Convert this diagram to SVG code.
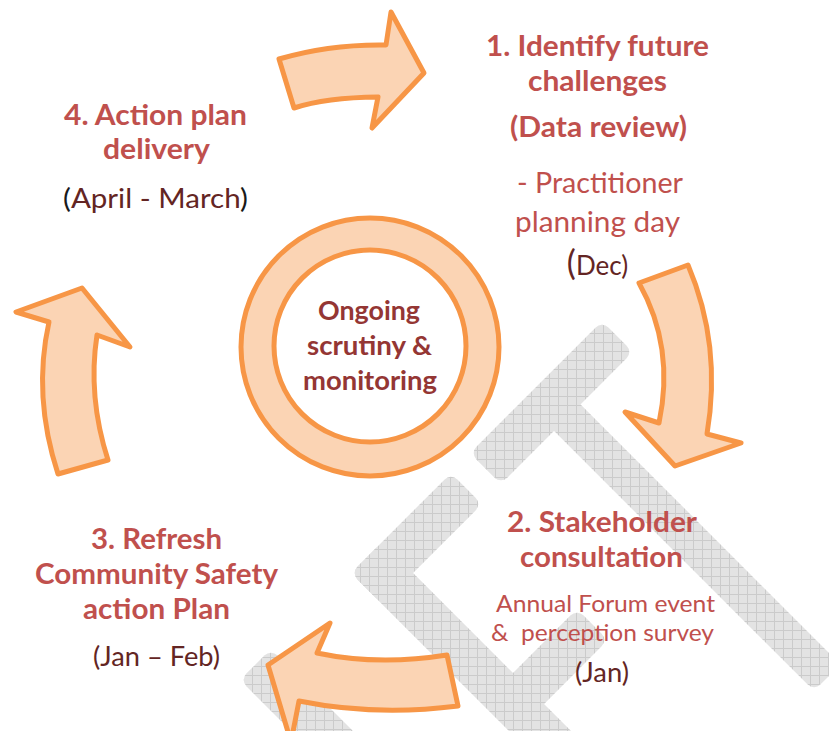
<svg xmlns="http://www.w3.org/2000/svg" width="829" height="731" viewBox="0 0 829 731">
<defs>
  <pattern id="grid" width="9" height="9" patternUnits="userSpaceOnUse" patternTransform="rotate(-45)">
    <rect width="9" height="9" fill="#e3e3e3"/>
    <path d="M0 0.5H9M0.5 0V9" stroke="#cbcbcb" stroke-width="1" fill="none"/>
  </pattern>
  <style>
    .arrow { fill: #FBD4B4; stroke: #F79646; stroke-width: 5; stroke-linejoin: round; }
    .ring { fill: #FBD4B4; stroke: #F79646; stroke-width: 5; }
    .hole { fill: #ffffff; stroke: #F79646; stroke-width: 5; }
    text { font-family: Lato, "Liberation Sans", sans-serif; text-anchor: middle; }
    .head { font-weight: bold; font-size: 29px; fill: #C0504D; }
    .sub { font-size: 28px; fill: #C0504D; }
    .small { font-size: 24px; fill: #C0504D; }
    .date { font-size: 26px; fill: #632523; }
    .centre { font-weight: bold; font-size: 27px; fill: #943634; }
  </style>
</defs>
<rect width="829" height="731" fill="#ffffff"/>

<g id="watermark" transform="rotate(45)" fill="url(#grid)">
  <rect x="652.7" y="-198.7" width="43.8" height="186.7" rx="9"/>
  <rect x="678.8" y="-124.5" width="385.4" height="37.5" rx="9"/>
  <rect x="653.4" y="15.6" width="43.8" height="141.4" rx="9"/>
  <rect x="653.4" y="113.1" width="294" height="43.9" rx="9"/>
  <rect x="838.6" y="22.6" width="43.9" height="111" rx="9"/>
  <rect x="650.5" y="267.3" width="150" height="43.8" rx="9"/>
</g>

<g id="connectors">
  <path class="arrow" d="M279,59 Q330,44 386,45 L391,12 L424,73 L372,128 L378,97 Q326,97.5 294,108 Z"/>
  <path class="arrow" d="M639,283 L688,265 Q722,345 707,434 L741,443 L675,466 L625,412 L659,423 Q675,347 639,283 Z"/>
  <path class="arrow" d="M447,655 Q378,666 317,653 L330,623 L268,665 L291,742 L299,701 Q375.5,716.5 458,706 Z"/>
  <path class="arrow" d="M58,474 L108,460 Q87.5,396.5 97,335 L130,347 L82,288 L16,312 L49,322 Q32.5,396 58,474 Z"/>
</g>

<g id="node-centre">
  <circle class="ring" cx="370" cy="347" r="129"/>
  <circle class="hole" cx="370" cy="346" r="96"/>
  <text class="centre" x="369" y="320" textLength="102" lengthAdjust="spacingAndGlyphs">Ongoing</text>
  <text class="centre" x="369.5" y="355" textLength="125" lengthAdjust="spacingAndGlyphs">scrutiny &amp;</text>
  <text class="centre" x="370" y="390" textLength="134" lengthAdjust="spacingAndGlyphs">monitoring</text>
</g>

<g id="node-identify">
  <text class="head" x="597.5" y="56" textLength="223" lengthAdjust="spacingAndGlyphs">1. Identify future</text>
  <text class="head" x="597.5" y="91" textLength="139" lengthAdjust="spacingAndGlyphs">challenges</text>
  <text class="head" x="598.5" y="137" textLength="177" lengthAdjust="spacingAndGlyphs">(Data review)</text>
  <text class="sub" x="600" y="193" textLength="166" lengthAdjust="spacingAndGlyphs">- Practitioner</text>
  <text class="sub" x="597.5" y="232" textLength="165" lengthAdjust="spacingAndGlyphs">planning day</text>
  <text class="date" x="597.5" y="275"><tspan font-size="34">(</tspan>Dec)</text>
</g>

<g id="node-stakeholder">
  <text class="head" x="602" y="532" textLength="190" lengthAdjust="spacingAndGlyphs">2. Stakeholder</text>
  <text class="head" x="601.5" y="567" textLength="163" lengthAdjust="spacingAndGlyphs">consultation</text>
  <text class="small" x="605.5" y="612" textLength="219" lengthAdjust="spacingAndGlyphs">Annual Forum event</text>
  <text class="small" x="602.5" y="641" xml:space="preserve" textLength="223" lengthAdjust="spacingAndGlyphs">&amp;  perception survey</text>
  <text class="date" x="602" y="682" textLength="54" lengthAdjust="spacingAndGlyphs">(Jan)</text>
</g>

<g id="node-refresh">
  <text class="head" x="156.5" y="549" textLength="131" lengthAdjust="spacingAndGlyphs">3. Refresh</text>
  <text class="head" x="156.5" y="584" textLength="243" lengthAdjust="spacingAndGlyphs">Community Safety</text>
  <text class="head" x="156.5" y="619" textLength="147" lengthAdjust="spacingAndGlyphs">action Plan</text>
  <text class="date" x="156.5" y="666" textLength="127" lengthAdjust="spacingAndGlyphs">(Jan – Feb)</text>
</g>

<g id="node-delivery">
  <text class="head" x="155.5" y="125" textLength="183" lengthAdjust="spacingAndGlyphs">4. Action plan</text>
  <text class="head" x="156.5" y="159" textLength="107" lengthAdjust="spacingAndGlyphs">delivery</text>
  <text class="date" x="155.5" y="208" textLength="185" lengthAdjust="spacingAndGlyphs"><tspan fill="#1a1a1a">(</tspan>April - March<tspan fill="#1a1a1a">)</tspan></text>
</g>
</svg>
